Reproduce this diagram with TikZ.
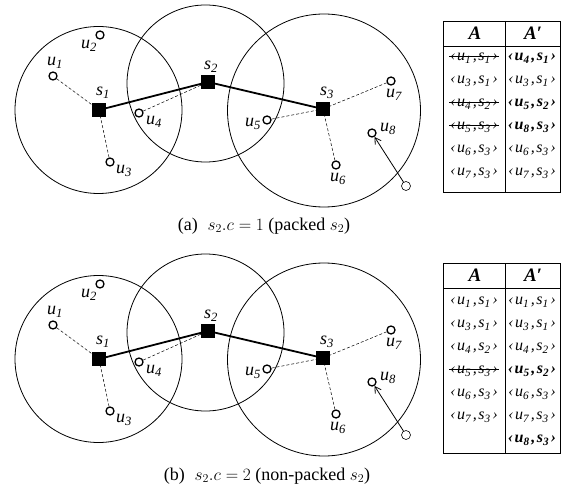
\documentclass[tikz,border=0pt]{standalone}
\usepackage{fontspec}
\setmainfont{Liberation Serif}
\usetikzlibrary{arrows.meta}
\newcommand\pr[4]{‹\kern1.6pt#1\textsubscript{#2}\kern1.6pt,\kern1.6pt#3\textsubscript{#4}\kern1.6pt›}
\tikzset{
  sq/.style={draw, fill=black, rectangle, minimum size=13pt, inner sep=0pt},
  pt/.style={draw, circle, line width=1.3pt, minimum size=8pt, inner sep=0pt, fill=white},
  mv/.style={draw, circle, line width=0.6pt, minimum size=9pt, inner sep=0pt},
  rng/.style={line width=0.8pt},
  lab/.style={font=\fontsize{18}{18}\selectfont\itshape, inner sep=0pt},
  dashln/.style={dash pattern=on 3pt off 2pt, line width=0.5pt},
  bb/.style={line width=1.8pt},
  arr/.style={-{Straight Barb[length=6pt,width=7pt]}, line width=0.8pt},
  cell/.style={font=\fontsize{16}{16}\selectfont\itshape, inner sep=0pt},
  strike/.style={append after command={([yshift=3.8pt,xshift=-1pt]\tikzlastnode.base west) edge[draw, line width=0.8pt] ([yshift=3.8pt,xshift=1pt]\tikzlastnode.base east)}},
  hd/.style={font=\fontsize{19}{19}\selectfont\bfseries\itshape, inner sep=0pt},
  tline/.style={line width=0.8pt},
  captxt/.style={font=\fontsize{18}{18}\selectfont, inner sep=0pt},
}
\newcommand\drawpanel[1]{%
  \draw[rng] (98.5,110) circle[radius=83.5pt];
  \draw[rng] (205.5,83.5) circle[radius=78.5pt];
  \draw[rng] (324,110.5) circle[radius=96.5pt];
  \node[sq] (s1#1) at (99,110) {};
  \node[sq] (s2#1) at (208,82) {};
  \node[sq] (s3#1) at (323,109) {};
  \node[pt] (u1#1) at (53,76) {};
  \node[pt] (u2#1) at (100,35) {};
  \node[pt] (u3#1) at (110,162) {};
  \node[pt] (u4#1) at (139,113) {};
  \node[pt] (u5#1) at (267,120) {};
  \node[pt] (u6#1) at (336,165) {};
  \node[pt] (u7#1) at (391,81) {};
  \node[pt] (u8#1) at (372,133) {};
  \node[mv] (m#1) at (406,186) {};
  \draw[dashln] (u1#1) -- (s1#1);
  \draw[dashln] (u3#1) -- (s1#1);
  \draw[dashln] (u4#1) -- (s2#1);
  \draw[dashln] (u5#1) -- (s3#1);
  \draw[dashln] (u6#1) -- (s3#1);
  \draw[dashln] (u7#1) -- (s3#1);
  \draw[bb] (s1#1) -- (s2#1) -- (s3#1);
  \draw[arr] (m#1) -- (u8#1);
  \node[lab] (ls1#1) at (103,93) {s\textsubscript{1}};
  \node[lab] (ls2#1) at (211,67) {s\textsubscript{2}};
  \node[lab] (ls3#1) at (327,93) {s\textsubscript{3}};
  \node[lab] (lu1#1) at (55,63) {u\textsubscript{1}};
  \node[lab] (lu2#1) at (89,46) {u\textsubscript{2}};
  \node[lab] (lu3#1) at (124,171) {u\textsubscript{3}};
  \node[lab] (lu4#1) at (154,122) {u\textsubscript{4}};
  \node[lab] (lu5#1) at (253,124) {u\textsubscript{5}};
  \node[lab] (lu6#1) at (338,179) {u\textsubscript{6}};
  \node[lab] (lu7#1) at (394,95) {u\textsubscript{7}};
  \node[lab] (lu8#1) at (388,129) {u\textsubscript{8}};
}
\begin{document}
\begin{tikzpicture}[x=1pt,y=-1pt]
\useasboundingbox (0,0) rectangle (564,486);
\fill[white] (0,0) rectangle (564,486);
% panel (a)
\drawpanel{a}
% table (a)
\draw[tline] (443,21) rectangle (560,192);
\draw[tline] (443,46) -- (560,46);
\draw[tline] (505,21) -- (505,192);
\node[hd] (ha) at (475,33) {A};
\node[hd] (hpa) at (533,33) {A′};
\node[cell,strike] (a11) at (474,58) {\pr{u}{1}{s}{1}};
\node[cell] (a12) at (532,58) {\bfseries\pr{u}{4}{s}{1}};
\node[cell] (a21) at (474,81) {\pr{u}{3}{s}{1}};
\node[cell] (a22) at (532,81) {\pr{u}{3}{s}{1}};
\node[cell,strike] (a31) at (474,104) {\pr{u}{4}{s}{2}};
\node[cell] (a32) at (532,104) {\bfseries\pr{u}{5}{s}{2}};
\node[cell,strike] (a41) at (474,127) {\pr{u}{5}{s}{3}};
\node[cell] (a42) at (532,127) {\bfseries\pr{u}{8}{s}{3}};
\node[cell] (a51) at (474,150) {\pr{u}{6}{s}{3}};
\node[cell] (a52) at (532,150) {\pr{u}{6}{s}{3}};
\node[cell] (a61) at (474,173) {\pr{u}{7}{s}{3}};
\node[cell] (a62) at (532,173) {\pr{u}{7}{s}{3}};
\node[captxt] (capa) at (264,226) {(a)\hspace{0.55em}$s_2.c=1$ (packed $s_2$)};
% panel (b)
\begin{scope}[yshift=-249pt]
\drawpanel{b}
\end{scope}
% table (b)
\draw[tline] (443,263) rectangle (560,453);
\draw[tline] (443,288) -- (560,288);
\draw[tline] (505,263) -- (505,453);
\node[hd] (hb) at (475,275) {A};
\node[hd] (hpb) at (533,275) {A′};
\node[cell] (b11) at (474,302) {\pr{u}{1}{s}{1}};
\node[cell] (b12) at (532,302) {\pr{u}{1}{s}{1}};
\node[cell] (b21) at (474,325) {\pr{u}{3}{s}{1}};
\node[cell] (b22) at (532,325) {\pr{u}{3}{s}{1}};
\node[cell] (b31) at (474,348) {\pr{u}{4}{s}{2}};
\node[cell] (b32) at (532,348) {\pr{u}{4}{s}{2}};
\node[cell,strike] (b41) at (474,371) {\pr{u}{5}{s}{3}};
\node[cell] (b42) at (532,371) {\bfseries\pr{u}{5}{s}{2}};
\node[cell] (b51) at (474,394) {\pr{u}{6}{s}{3}};
\node[cell] (b52) at (532,394) {\pr{u}{6}{s}{3}};
\node[cell] (b61) at (474,417) {\pr{u}{7}{s}{3}};
\node[cell] (b62) at (532,417) {\pr{u}{7}{s}{3}};
\node[cell] (b72) at (532,440) {\bfseries\pr{u}{8}{s}{3}};
\node[captxt] (capb) at (267,476) {(b)\hspace{0.55em}$s_2.c=2$ (non-packed $s_2$)};
\end{tikzpicture}
\end{document}
